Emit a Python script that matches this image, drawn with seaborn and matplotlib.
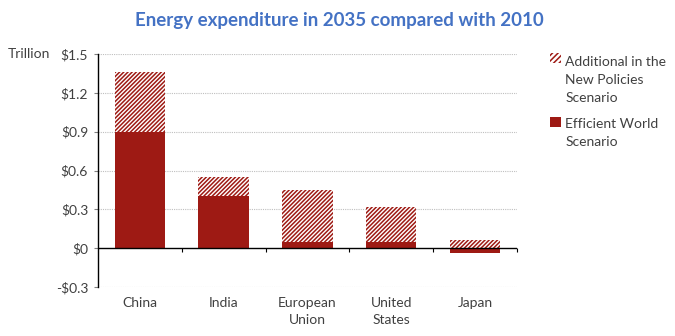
import matplotlib
matplotlib.use("Agg")
import matplotlib.pyplot as plt
import matplotlib.patches as mpatches
from matplotlib.legend_handler import HandlerPatch
import seaborn as sns
import pandas as pd
import numpy as np

# Energy expenditure change, trillion USD
regions = ["China", "India", "European\nUnion", "United\nStates", "Japan"]
efficient_world = [0.90, 0.40, 0.05, 0.05, -0.04]
additional_new_policies = [0.46, 0.15, 0.40, 0.27, 0.06]
y_ticks = [-0.3, 0, 0.3, 0.6, 0.9, 1.2, 1.5]
y_tick_labels = ["-$0.3", "$0", "$0.3", "$0.6", "$0.9", "$1.2", "$1.5"]
legend_labels = ["Additional in the\nNew Policies\nScenario", "Efficient World\nScenario"]

RED = "#9E1A14"
TEXT = "#404040"
FS = 10
LEG_LS = 1.6

sns.set_theme(style="white")
plt.rcParams["font.family"] = ["Lato", "DejaVu Sans"]
plt.rcParams["hatch.linewidth"] = 1.1

df = pd.DataFrame({
    "region": regions,
    "efficient": efficient_world,
    "additional": additional_new_policies,
})
df["top"] = df["efficient"].clip(lower=0) + df["additional"]

fig = plt.figure(figsize=(6.75, 3.36), dpi=100)
ax = fig.add_axes([0.145, 0.146, 0.621, 0.693])

# Hatched stack (New Policies total), then solid Efficient World bars
sns.barplot(data=df, x="region", y="top", ax=ax, color="white", width=0.6,
            edgecolor=RED, linewidth=0, hatch="////////", saturation=1)
sns.barplot(data=df, x="region", y="efficient", ax=ax, color=RED, width=0.6,
            linewidth=0, saturation=1)

ax.set_ylim(y_ticks[0], y_ticks[-1])
ax.set_xlim(-0.5, len(regions) - 0.5)
ax.set_yticks(y_ticks)
ax.set_yticklabels(y_tick_labels, color=TEXT, fontsize=FS)
ax.set_xlabel("")
ax.set_ylabel("")

# Dotted grid lines
for v in y_ticks:
    if v != 0:
        ax.axhline(v, color="#BFBFBF", lw=0.8, ls=(0, (1, 1)), zorder=0)
ax.axhline(0, color="black", lw=1.0, zorder=3)

for s in ["top", "right", "bottom"]:
    ax.spines[s].set_visible(False)
ax.spines["left"].set_color("black")
ax.spines["left"].set_linewidth(1.0)
ax.tick_params(axis="y", left=True, length=3, width=0.8, color="#808080", pad=4)

# Category labels below the plot
ax.tick_params(axis="x", bottom=False, pad=1)
ax.set_xticks(range(len(regions)))
ax.set_xticklabels(regions, color=TEXT, fontsize=FS, linespacing=1.55)

# Category separator ticks hanging from the zero line
separators = np.arange(0.5, len(regions), 1.0)
ax.vlines(separators, 0, -0.03, color="black", lw=0.8, zorder=3, clip_on=False)

fig.text(0.012, ax.transAxes.transform((0, 1))[1] / fig.bbox.height, "Trillion",
         color=TEXT, fontsize=FS, va="center", ha="left")

fig.suptitle("Energy expenditure in 2035 compared with 2010", x=0.503, y=0.965,
             color="#4472C4", fontsize=13.5, fontweight="bold")


def top_aligned(nlines):
    def make(legend, orig_handle, xdescent, ydescent, width, height, fontsize):
        shift = (nlines - 1) * fontsize * LEG_LS / 2
        return mpatches.Rectangle((-xdescent, -ydescent + shift), width, height)
    return HandlerPatch(patch_func=make)


h_add = mpatches.Patch(facecolor="white", edgecolor=RED, linewidth=0, hatch="//////")
h_eff = mpatches.Patch(facecolor=RED, linewidth=0)
leg = fig.legend([h_add, h_eff], legend_labels,
                 loc="upper left", bbox_to_anchor=(0.797, 0.87), frameon=False,
                 fontsize=FS, handlelength=0.75, handleheight=0.75,
                 handletextpad=0.3, labelspacing=1.0,
                 handler_map={h_add: top_aligned(3), h_eff: top_aligned(2)})
for t in leg.get_texts():
    t.set_color(TEXT)
    t.set_linespacing(LEG_LS)

fig.savefig("out.png", dpi=100)
